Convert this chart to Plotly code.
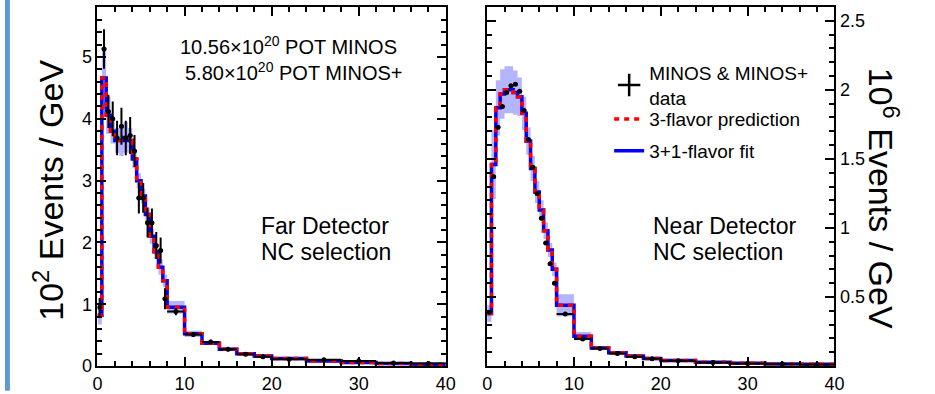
import plotly.graph_objects as go

# ---------------- data ----------------
bin_edges = [0, 0.5, 1, 1.5, 2, 2.5, 3, 3.5, 4, 4.5, 5, 5.5, 6, 6.5, 7, 7.5, 8,
             10, 12, 14, 16, 18, 20, 24, 28, 32, 36, 40]
bin_centers = [0.25, 0.75, 1.25, 1.75, 2.25, 2.75, 3.25, 3.75, 4.25, 4.75, 5.25,
               5.75, 6.25, 6.75, 7.25, 7.75, 9, 11, 13, 15, 17, 19, 22, 26, 30, 34, 38]
bin_halfwidth = [0.25] * 16 + [1, 1, 1, 1, 1, 1, 2, 2, 2, 2, 2]

# Far detector (10^2 events / GeV)
far_data = [0.95, 5.13, 4.12, 4.00, 3.69, 3.88, 3.69, 3.73, 3.48, 2.72, 2.72,
            2.32, 2.32, 1.95, 1.87, 1.09, 0.88, 0.51, 0.39, 0.27, 0.19, 0.15,
            0.11, 0.10, 0.08, 0.05, 0.04]
far_err = [0.15, 0.32, 0.27, 0.28, 0.28, 0.30, 0.28, 0.30, 0.26, 0.25, 0.24,
           0.24, 0.23, 0.22, 0.21, 0.17, 0.06, 0.04, 0.035, 0.03, 0.025, 0.02,
           0.02, 0.02, 0.05, 0.02, 0.02]
far_pred = [0.82, 4.66, 4.06, 3.80, 3.65, 3.65, 3.70, 3.65, 3.35, 3.00, 2.75,
            2.45, 2.10, 1.85, 1.60, 1.38, 0.95, 0.52, 0.37, 0.27, 0.20, 0.16,
            0.12, 0.08, 0.055, 0.04, 0.03]
far_fit = [0.82, 4.66, 4.06, 3.80, 3.65, 3.65, 3.70, 3.65, 3.35, 3.00, 2.75,
           2.45, 2.10, 1.85, 1.60, 1.38, 0.95, 0.52, 0.37, 0.27, 0.20, 0.16,
           0.12, 0.08, 0.055, 0.04, 0.03]
far_band = [0.15, 0.50, 0.30, 0.20, 0.20, 0.25, 0.25, 0.20, 0.15, 0.12, 0.12,
            0.12, 0.12, 0.12, 0.12, 0.10, 0.10, 0.05, 0.03, 0.02, 0.02, 0.015,
            0.015, 0.01, 0.01, 0.01, 0.01]

# Near detector (10^6 events / GeV)
near_data = [0.39, 1.37, 1.73, 1.88, 1.98, 2.03, 2.04, 1.99, 1.85, 1.64, 1.44,
             1.25, 1.07, 0.89, 0.74, 0.60, 0.376, 0.196, 0.127, 0.091, 0.067,
             0.053, 0.038, 0.026, 0.019, 0.014, 0.011]
near_err = [0.004] * 27
near_pred = [0.38, 1.46, 1.87, 1.97, 2.00, 2.00, 1.98, 1.95, 1.83, 1.63, 1.43,
             1.26, 1.13, 0.98, 0.84, 0.70, 0.44, 0.216, 0.13, 0.096, 0.072,
             0.055, 0.04, 0.028, 0.02, 0.015, 0.012]
near_fit = [0.38, 1.46, 1.87, 1.97, 2.00, 2.00, 1.98, 1.95, 1.83, 1.63, 1.43,
            1.26, 1.13, 0.98, 0.84, 0.70, 0.44, 0.216, 0.13, 0.096, 0.072,
            0.055, 0.04, 0.028, 0.02, 0.015, 0.012]
near_band = [0.06, 0.25, 0.20, 0.18, 0.17, 0.17, 0.16, 0.14, 0.12, 0.10, 0.09,
             0.08, 0.07, 0.06, 0.05, 0.05, 0.08, 0.03, 0.015, 0.01, 0.008,
             0.006, 0.005, 0.004, 0.003, 0.003, 0.002]

x_ticks = [0, 10, 20, 30, 40]
far_y_ticks = [0, 1, 2, 3, 4, 5]
near_y_ticks = [0.5, 1, 1.5, 2, 2.5]

# ---------------- figure ----------------
W, H = 935, 394
T, B = 7, 25
FONT = "Liberation Sans, Arial, Helvetica, sans-serif"


def px_x(p):
    return p / W


def px_y(p):
    return (H - B - p) / (H - T - B)


def step(vals):
    return list(vals) + [vals[-1]]


fig = go.Figure()


def add_panel(xa, ya, data, err, pred, fit, band):
    lo = [v - b for v, b in zip(pred, band)]
    hi = [v + b for v, b in zip(pred, band)]
    fig.add_trace(go.Scatter(x=bin_edges, y=step(lo), xaxis=xa, yaxis=ya,
                             mode="lines", line=dict(width=0, shape="hv"),
                             showlegend=False, hoverinfo="skip"))
    fig.add_trace(go.Scatter(x=bin_edges, y=step(hi), xaxis=xa, yaxis=ya,
                             mode="lines", line=dict(width=0, shape="hv"),
                             fill="tonexty", fillcolor="rgba(120,120,255,0.55)",
                             showlegend=False, hoverinfo="skip"))
    fig.add_trace(go.Scatter(x=bin_edges, y=step(fit), xaxis=xa, yaxis=ya,
                             mode="lines", line=dict(color="#0000ff", width=3.5, shape="hv"),
                             showlegend=False))
    fig.add_trace(go.Scatter(x=bin_edges, y=step(pred), xaxis=xa, yaxis=ya,
                             mode="lines",
                             line=dict(color="#ff0000", width=3.5, shape="hv", dash="5px,5px"),
                             showlegend=False))
    fig.add_trace(go.Scatter(x=bin_centers, y=data, xaxis=xa, yaxis=ya,
                             mode="markers",
                             marker=dict(color="black", size=5),
                             error_y=dict(type="data", array=err, color="black",
                                          thickness=2, width=0),
                             error_x=dict(type="data", array=bin_halfwidth, color="black",
                                          thickness=2, width=0),
                             showlegend=False))


add_panel("x", "y", far_data, far_err, far_pred, far_fit, far_band)
add_panel("x2", "y2", near_data, near_err, near_pred, near_fit, near_band)

# legend entries (three separate legends for exact row placement)
fig.add_trace(go.Scatter(x=[None], y=[None], xaxis="x2", yaxis="y2", mode="markers",
                         name="MINOS &amp; MINOS+<br>data",
                         marker=dict(symbol="cross-thin", size=16, color="black",
                                     line=dict(color="black", width=2.5)),
                         legend="legend"))
fig.add_trace(go.Scatter(x=[None], y=[None], xaxis="x2", yaxis="y2", mode="lines",
                         name="3-flavor prediction",
                         line=dict(color="#ff0000", width=3.5, dash="5px,5px"),
                         legend="legend2"))
fig.add_trace(go.Scatter(x=[None], y=[None], xaxis="x2", yaxis="y2", mode="lines",
                         name="3+1-flavor fit",
                         line=dict(color="#0000ff", width=3.5),
                         legend="legend3"))

axis_common = dict(showline=True, linecolor="black", linewidth=2, mirror="allticks",
                   ticks="inside", ticklen=9, tickwidth=1.5, tickcolor="black",
                   showgrid=False, zeroline=False,
                   tickfont=dict(family=FONT, size=18, color="black"))

LEG_X = 614
leg_font = dict(family=FONT, size=19, color="black")

fig.update_layout(
    width=W, height=H,
    margin=dict(l=0, r=0, t=T, b=B),
    paper_bgcolor="white", plot_bgcolor="white",
    font=dict(family=FONT, color="black"),
    xaxis=dict(domain=[px_x(94), px_x(448)], range=[0, 40], tickvals=x_ticks,
               minor=dict(dtick=2, ticks="inside", ticklen=5, tickcolor="black", tickwidth=1.5),
               anchor="y", **axis_common),
    yaxis=dict(domain=[0, 1], range=[0, 5.81], tickvals=far_y_ticks,
               minor=dict(dtick=0.2, ticks="inside", ticklen=5, tickcolor="black", tickwidth=1.5),
               anchor="x", **axis_common),
    xaxis2=dict(domain=[px_x(490), px_x(843)], range=[0, 40], tickvals=x_ticks,
                minor=dict(dtick=2, ticks="inside", ticklen=5, tickcolor="black", tickwidth=1.5),
                anchor="y2", **axis_common),
    yaxis2=dict(domain=[0, 1], range=[0, 2.60], tickvals=near_y_ticks, side="right",
                minor=dict(dtick=0.1, ticks="inside", ticklen=5, tickcolor="black", tickwidth=1.5),
                anchor="x2", **axis_common),
    legend=dict(x=px_x(LEG_X), y=px_y(86), xanchor="left", yanchor="middle",
                bgcolor="rgba(0,0,0,0)", itemwidth=30, font=leg_font),
    legend2=dict(x=px_x(LEG_X), y=px_y(120), xanchor="left", yanchor="middle",
                 bgcolor="rgba(0,0,0,0)", itemwidth=30, font=leg_font),
    legend3=dict(x=px_x(LEG_X), y=px_y(152), xanchor="left", yanchor="middle",
                 bgcolor="rgba(0,0,0,0)", itemwidth=30, font=leg_font),
)

ann = []


def text(s, x, y, size, xanchor="left", angle=0):
    ann.append(dict(text=s, x=px_x(x), y=px_y(y), xref="paper", yref="paper",
                    xanchor=xanchor, yanchor="middle", showarrow=False, textangle=angle,
                    font=dict(family=FONT, size=size, color="black")))


text("10.56×10<sup>20</sup> POT MINOS", 176, 46, 20)
text("5.80×10<sup>20</sup> POT MINOS+", 181, 72, 20)
text("Far Detector", 258, 228, 23)
text("NC selection", 258, 254, 23)
text("Near Detector", 657, 228, 23)
text("NC selection", 657, 254, 23)
text("10<sup>2</sup> Events / GeV", 44, 192, 34, xanchor="center", angle=-90)
text("10<sup>6</sup> Events / GeV", 893, 200, 34, xanchor="center", angle=90)
fig.update_layout(annotations=ann)

# slide-edge accent stripe
fig.add_shape(type="rect", xref="paper", yref="paper",
              x0=0, x1=px_x(5), y0=px_y(H), y1=px_y(0),
              fillcolor="#5b9bd5", line=dict(width=0), layer="above")

fig.write_html("out.html")
